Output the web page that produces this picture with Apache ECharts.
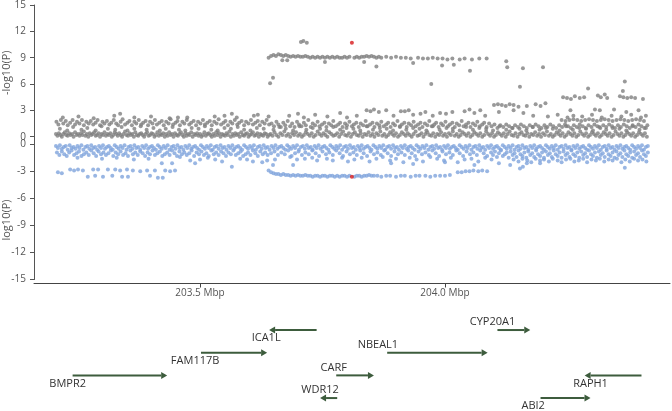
<!DOCTYPE html>
<html>
<head>
<meta charset="utf-8">
<script src="https://cdn.jsdelivr.net/npm/echarts@6/dist/echarts.min.js"></script>
<style>
  html, body { margin: 0; padding: 0; background: #fff; }
  #chart { width: 672px; height: 411px; }
</style>
</head>
<body>
<div id="chart"></div>
<script>
// flat pairs: position in kb past 203 Mbp, value x10
// top panel: -log10(P), grey
const topBase = [206,3,209,1,212,4,215,2,218,0,221,3,224,5,227,2,230,1,233,4,236,2,239,3,242,0,245,5,248,2,251,3,254,1,257,4,260,2,263,6,266,1,269,3,272,0,275,4,278,2,281,3,284,5,287,1,290,2,293,4,296,0,299,3,302,2,305,5,308,1,311,3,314,2,317,4,320,0,323,2,326,5,329,3,332,1,335,4,338,2,341,0,344,3,347,6,350,2,353,1,356,4,359,2,362,3,365,0,368,5,371,2,374,1,377,3,380,4,383,2,386,0,389,3,392,5,395,1,398,2,401,4,404,3,407,0,410,2,413,5,416,1,419,3,422,2,425,4,428,0,431,3,434,1,437,5,440,2,443,3,446,0,449,4,452,2,455,1,458,3,461,5,464,2,467,0,470,4,473,1,476,3,479,2,482,5,485,0,488,3,491,2,494,4,497,1,500,3,503,0,506,2,509,5,512,1,515,3,518,4,521,2,524,0,527,3,530,1,533,5,536,2,539,4,542,0,545,3,548,2,551,1,554,4,557,2,560,6,563,0,566,3,569,1,572,4,575,2,578,3,581,0,584,5,587,2,590,1,593,3,596,4,599,0,602,2,605,3,608,5,611,1,614,2,617,4,620,0,623,3,626,2,629,1,632,4,635,3,638,0,641,2,
  644,3,648,1,652,5,656,2,660,0,664,4,668,2,672,6,676,1,680,3,684,0,688,4,692,2,696,5,700,1,704,3,708,0,712,2,716,5,720,3,724,1,728,4,732,0,736,2,740,6,744,3,748,1,752,4,756,2,760,0,764,5,768,3,772,1,776,2,780,4,784,0,788,3,792,6,796,2,800,1,804,4,808,0,812,3,816,5,820,2,824,1,828,4,832,0,836,3,840,2,844,5,848,1,852,3,856,0,860,4,864,2,868,6,872,1,876,3,880,0,884,2,888,5,892,3,896,1,900,4,904,0,908,2,912,5,916,3,920,1,924,4,928,2,932,0,936,3,940,6,944,1,948,2,952,4,956,0,960,3,964,5,968,2,972,1,976,4,980,0,984,3,988,2,992,5,996,1,1000,3,1004,0,1008,4,1012,2,1016,6,1020,1,1024,3,1028,0,1032,2,1036,5,1040,3,1044,1,1048,4,1052,0,1056,2,1060,5,1064,3,1068,1,1072,4,1076,0,1080,2,1084,6,1088,3,1092,1,1096,4,1100,0,1104,2,1108,5,1112,3,1116,1,1120,4,1124,0,1128,3,1132,6,1136,2,1140,1,1144,4,1148,0,1152,3,1156,5,1160,2,1164,1,1168,4,1172,0,1176,3,1180,2,1184,5,1188,1,1192,3,1196,0,1200,4,1204,2,1208,6,1212,1,1216,3,1220,0,1224,2,1228,5,1232,3,1236,1,1240,4,1244,0,1248,2,1252,5,1256,3,1260,1,1264,4,1268,0,1272,2,1276,6,1280,3,1284,1,1288,4,1292,0,1296,2,1300,5,1304,3,1308,1,1312,4,1316,0,1320,2,1324,5,1328,3,1332,1,1336,4,1340,0,1344,2,1348,6,1352,3,1356,1,1360,4,1364,0,1368,2,1372,5,1376,3,1380,1,1384,4,1388,0,1392,2,1396,5,1400,3,1404,1,1408,4,1412,0];
const topMid = [214,9,229,7,241,11,258,8,270,10,287,7,299,12,312,9,327,8,340,11,352,7,366,9,379,12,391,8,405,10,418,7,430,9,444,11,457,8,470,7,483,10,497,9,510,12,523,8,536,7,550,10,563,9,577,11,590,8,603,7,616,10,630,9,650,8,662,11,675,9,690,7,703,12,717,8,730,10,745,9,758,7,772,11,786,8,799,10,813,9,827,7,840,12,853,8,867,10,881,9,894,7,908,11,921,8,935,10,948,9,962,7,975,12,989,8,1003,10,1016,9,1030,7,1043,11,1057,8,1070,10,1084,9,1098,7,1111,12,1125,8,1138,10,1152,9,1166,7,1179,11,1193,8,1206,10,1220,9,1234,7,1247,12,1261,8,1274,10,1288,9,1302,7,1315,11,1329,8,1342,10,1356,9,1370,7,1383,12,1397,8,1410,10];
const topUpper = [207,17,211,14,216,19,221,15,226,18,230,13,235,16,240,19,245,14,249,17,254,15,259,19,263,13,268,17,273,15,277,18,282,14,287,16,291,19,296,13,301,17,305,15,310,18,315,14,319,16,324,19,329,15,333,13,338,17,342,20,347,14,352,16,356,18,361,13,366,17,370,15,375,19,380,14,384,16,389,18,394,13,398,17,403,15,408,19,412,14,417,16,422,18,426,13,431,17,436,15,440,20,445,14,450,16,454,18,459,13,464,17,468,15,473,19,478,14,482,16,487,18,492,13,496,17,501,15,506,19,510,14,515,16,520,18,524,13,529,17,534,15,538,20,543,14,548,16,552,18,557,13,562,17,566,15,571,19,576,14,580,16,585,18,590,13,594,17,599,15,604,19,608,14,613,16,618,18,622,13,627,17,632,15,636,19,641,14,
  646,15,651,12,656,17,660,14,665,11,670,16,674,13,679,18,684,12,688,15,693,11,698,17,702,14,707,12,712,16,716,13,721,19,726,11,730,15,735,13,740,17,744,12,749,14,754,16,758,11,763,15,768,13,772,18,777,12,782,14,786,16,791,11,796,15,800,13,805,17,810,12,814,14,819,16,824,11,828,15,833,13,838,18,842,12,847,14,852,16,856,11,861,15,866,13,870,17,875,12,880,14,884,16,889,11,894,15,898,13,903,18,908,12,912,14,917,16,922,11,926,15,931,13,936,17,940,12,945,14,950,16,954,11,959,15,964,13,968,18,973,12,978,14,982,16,987,11,992,15,996,13,1001,17,1006,12,1010,14,1015,16,1020,11,1024,15,1029,13,1034,18,1038,12,1043,14,1048,16,1052,11,1057,15,1062,13,1066,17,1071,12,1076,14,1080,16,1085,11,1090,15,
  1095,12,1101,14,1107,10,1113,13,1119,11,1125,14,1131,12,1137,10,1143,13,1149,11,1155,14,1161,12,1167,10,1173,13,1179,11,1185,14,1191,12,1197,10,1203,13,1209,11,1215,14,1221,12,1227,10,1233,13,1239,11,1245,14,1251,12,1257,10,1263,13,1269,11,1275,14,1281,12,1287,10,1293,13,1299,11,1305,14,1311,12,1317,10,1323,13,1329,11,1335,14,1341,12,1347,10,1353,13,1359,11,1365,14,1371,12,1377,10,1383,13,1389,11,1395,14,1401,12,1407,10,1413,13,
  1238,19,1246,18,1254,19,1262,20,1270,19,1278,18,1286,19,1294,20,1302,19,1310,18,1318,19,1326,20,1334,19,1342,18,1350,19,1358,20,1366,19,1374,18,1382,19,1390,20,1398,19,1406,18];
const topScatter = [220,22,252,23,283,21,325,24,337,26,366,22,400,23,438,21,455,22,474,22,530,23,550,24,565,26,575,22,610,24,618,25,640,23,
  682,24,700,26,712,22,735,25,760,23,786,27,800,22,820,24,840,30,848,29,855,31,865,28,880,30,895,24,910,29,918,29,926,30,935,25,950,26,960,28,975,24,990,27,1002,26,1015,28,1040,29,1050,31,1060,27,1072,30,1082,24,
  1100,36,1108,37,1116,36,1124,35,1132,37,1140,36,1150,34,1167,35,1185,37,1195,35,1205,38,1110,28,1140,30,1160,27,1180,24,1210,23,1230,25,1250,22,1256,30,1262,24,1280,23,1306,31,1300,25,1316,30,1320,22,1340,24,1345,31,1360,23,1370,28,1380,25,1395,30,1400,22,1410,24,
  1241,45,1249,44,1257,43,1265,46,1275,44,1284,45,1312,47,1318,45,1326,48,1331,44,1357,46,1364,45,1372,44,1380,45,1388,44,1404,43];
const topPeak = [640,90,645,92,650,93,655,92,660,94,665,93,670,92,675,93,680,92,685,91,690,92,695,91,700,92,705,91,710,91,715,92,720,91,725,90,730,91,735,90,740,91,745,90,750,91,755,90,760,91,765,90,770,91,775,90,780,91,785,90,790,90,795,91,800,90,805,91,815,90,820,91,825,90,830,91,835,91,840,92,845,91,850,92,855,91,860,90,865,91,870,90,880,91,890,90,900,91,910,90,920,90,930,89,945,90,955,89,965,89,975,90,985,89,995,89,1005,88,1015,89,1030,88,1040,89,1055,88,1070,89,1085,89];
const topHigh = [643,61,649,67,668,87,678,87,706,108,711,109,718,107,755,85,835,85,860,80,935,84,972,60,994,81,1018,82,1051,75,1125,86,1127,79,1153,57,1159,78,1200,79,1292,55,1363,52,1367,63];
const topLead = [810,107];

// bottom panel: log10(P), blue
const botA = [206,-2,210,-4,214,-1,218,-5,222,-3,226,-2,230,-6,234,-1,238,-4,242,-3,246,-5,250,-2,254,-4,258,-1,262,-6,266,-3,270,-2,274,-5,278,-1,282,-4,286,-3,290,-6,294,-2,298,-4,302,-1,306,-5,310,-3,314,-2,318,-4,322,-6,326,-1,330,-3,334,-5,338,-2,342,-4,346,-1,350,-6,354,-3,358,-2,362,-5,366,-1,370,-4,374,-3,378,-6,382,-2,386,-4,390,-1,394,-5,398,-3,402,-2,406,-4,410,-6,414,-1,418,-3,422,-5,426,-2,430,-4,434,-1,438,-6,442,-3,446,-2,450,-5,454,-1,458,-4,462,-3,466,-6,470,-2,474,-4,478,-1,482,-5,486,-3,490,-2,494,-4,498,-6,502,-1,506,-3,510,-5,514,-2,518,-4,522,-1,526,-6,530,-3,534,-2,538,-5,542,-1,546,-4,550,-3,554,-6,558,-2,562,-4,566,-1,570,-5,574,-3,578,-2,582,-4,586,-6,590,-1,594,-3,598,-5,602,-2,606,-4,610,-1,614,-6,618,-3,622,-2,626,-5,630,-1,634,-4,638,-3,642,-6,646,-2,650,-4,654,-1,658,-5,662,-3,666,-2,670,-4,674,-6,678,-1,682,-3,686,-5,690,-2,694,-4,698,-1,702,-6,706,-3,710,-2,714,-5,718,-1,722,-4,726,-3,730,-6,734,-2,738,-4,742,-1,746,-5,750,-3,754,-2,758,-4,762,-6,766,-1,770,-3,774,-5,778,-2,782,-4,786,-1,790,-6,794,-3,798,-2,802,-5,806,-1,810,-4,814,-3,818,-6,822,-2,826,-4,830,-1,834,-5,838,-3,842,-2,846,-4,850,-6,854,-1,858,-3,862,-5,866,-2,870,-4,874,-1,878,-6,882,-3,886,-2,890,-5,894,-1,898,-4,902,-3,906,-6,910,-2,914,-4,918,-1,922,-5,926,-3,930,-2,934,-4,938,-6,942,-1,946,-3,950,-5,954,-2,958,-4,962,-1,966,-6,970,-3,974,-2,978,-5,982,-1,986,-4,990,-3,994,-6,998,-2,1002,-4,1006,-1,1010,-5,1014,-3,1018,-2,1022,-4,1026,-6,1030,-1,1034,-3,1038,-5,1042,-2,1046,-4,1050,-1,1054,-6,1058,-3,1062,-2,1066,-5,1070,-1,1074,-4,1078,-3,1082,-6,1086,-2,1090,-4,1094,-1,1098,-5,1102,-3,1106,-2,1110,-4,1114,-6,1118,-1,1122,-3,1126,-5,1130,-2,1134,-4,1138,-1,1142,-6,1146,-3,1150,-2,1154,-5,1158,-1,1162,-4,1166,-3,1170,-6,1174,-2,1178,-4,1182,-1,1186,-5,1190,-3,1194,-2,1198,-4,1202,-6,1206,-1,1210,-3,1214,-5,1218,-2,1222,-4,1226,-1,1230,-6,1234,-3,1238,-2,1242,-5,1246,-1,1250,-4,1254,-3,1258,-6,1262,-2,1266,-4,1270,-1,1274,-5,1278,-3,1282,-2,1286,-4,1290,-6,1294,-1,1298,-3,1302,-5,1306,-2,1310,-4,1314,-1,1318,-6,1322,-3,1326,-2,1330,-5,1334,-1,1338,-4,1342,-3,1346,-6,1350,-2,1354,-4,1358,-1,1362,-5,1366,-3,1370,-2,1374,-4,1378,-6,1382,-1,1386,-3,1390,-5,1394,-2,1398,-4,1402,-1,1406,-6,1410,-3,1414,-2];
const botB = [208,-9,213,-12,218,-8,223,-11,228,-13,233,-9,238,-7,243,-12,248,-10,253,-8,258,-13,263,-11,268,-9,273,-12,278,-7,283,-10,288,-13,293,-8,298,-11,303,-9,308,-12,313,-10,318,-7,323,-13,328,-9,333,-11,338,-8,343,-12,348,-10,353,-13,358,-7,363,-11,368,-9,373,-12,378,-8,383,-10,388,-13,393,-9,398,-11,403,-7,408,-12,413,-10,418,-8,423,-13,428,-11,433,-9,438,-12,443,-7,448,-10,453,-13,458,-8,463,-11,468,-9,473,-12,478,-10,483,-7,488,-13,493,-9,498,-11,503,-8,508,-12,513,-10,518,-13,523,-7,528,-11,533,-9,538,-12,543,-8,548,-10,553,-13,558,-9,563,-11,568,-7,573,-12,578,-10,583,-8,588,-13,593,-11,598,-9,603,-12,608,-7,613,-10,618,-13,623,-8,628,-11,633,-9,638,-12,
  645,-10,652,-8,659,-12,666,-9,673,-11,680,-7,687,-13,694,-10,701,-8,708,-12,715,-9,722,-11,729,-7,736,-10,743,-13,750,-8,757,-11,764,-9,771,-12,778,-7,785,-10,792,-13,799,-8,806,-11,813,-9,820,-12,827,-7,834,-10,841,-13,848,-8,855,-11,862,-9,869,-12,876,-7,883,-10,890,-13,897,-8,904,-11,911,-9,918,-12,925,-7,932,-10,939,-13,946,-8,953,-11,960,-9,967,-12,974,-7,981,-10,988,-13,995,-8,1002,-11,1009,-9,1016,-12,1023,-7,1030,-10,1037,-13,1044,-8,1051,-11,1058,-9,1065,-12,1072,-7,1079,-10,1086,-13,
  1094,-9,1098,-12,1102,-8,1106,-14,1110,-10,1114,-7,1118,-13,1122,-11,1126,-9,1130,-15,1134,-8,1138,-12,1142,-10,1146,-14,1150,-7,1154,-11,1158,-13,1162,-9,1166,-15,1170,-8,1174,-12,1178,-10,1182,-14,1186,-7,1190,-11,1194,-13,1198,-9,1202,-15,1206,-8,1210,-12,1214,-10,1218,-14,1222,-7,1226,-11,1230,-13,1234,-9,1238,-15,1242,-8,1246,-12,1250,-10,1254,-14,1258,-7,1262,-11,1266,-13,1270,-9,1274,-15,1278,-8,1282,-12,1286,-10,1290,-14,1294,-7,1298,-11,1302,-13,1306,-9,1310,-15,1314,-8,1318,-12,1322,-10,1326,-14,1330,-7,1334,-11,1338,-13,1342,-9,1346,-15,1350,-8,1354,-12,1358,-10,1362,-14,1366,-7,1370,-11,1374,-13,1378,-9,1382,-15,1386,-8,1390,-12,1394,-10,1398,-14,1402,-7,1406,-11,1410,-13,1414,-9];
const botC = [1140,-17,1150,-19,1158,-16,1168,-18,1176,-20,1185,-16,1194,-18,1202,-17,1212,-19,1220,-16,1230,-18,1238,-20,1247,-17,1256,-16,1264,-19,1273,-18,1282,-16,1290,-20,1299,-17,1308,-18,1316,-16,1325,-19,1334,-17,1342,-18,1351,-16,1360,-20,1368,-17,1377,-19,1386,-16,1394,-18,1403,-17,1411,-19];
const botScatter = [250,-15,300,-16,330,-15,365,-17,395,-16,422,-21,443,-21,459,-14,480,-18,490,-21,500,-17,516,-15,531,-17,545,-19,565,-25,582,-16,596,-17,608,-19,627,-20,637,-18,649,-23,653,-17,684,-14,690,-23,698,-17,714,-16,729,-15,739,-18,759,-16,771,-18,790,-15,802,-19,
  815,-17,830,-15,846,-19,860,-16,873,-14,888,-18,890,-21,900,-16,915,-20,928,-15,935,-22,942,-17,955,-19,970,-14,984,-16,998,-18,1000,-20,1012,-15,1026,-20,1040,-17,1054,-16,1060,-23,1068,-19,1082,-15,1095,-17,1110,-21,1133,-23,1153,-27,1159,-25,1167,-21,1194,-21,1367,-26];
const botRowLeft = [210,-31,218,-32,235,-28,243,-29,251,-28,261,-29,271,-36,282,-28,286,-35,292,-28,302,-36,312,-28,321,-35,327,-28,337,-29,341,-36,351,-28,353,-36,363,-29,378,-30,392,-29,398,-35,408,-29,414,-37,424,-37,429,-29,439,-30,449,-29];
const botRowMid = [640,-29,645,-31,650,-32,655,-33,660,-33,665,-34,670,-33,675,-34,680,-34,685,-35,690,-34,695,-35,700,-34,705,-35,710,-35,715,-34,720,-35,725,-35,730,-36,735,-35,740,-35,745,-36,750,-35,755,-35,760,-36,765,-35,770,-35,775,-36,780,-35,785,-36,790,-35,795,-35,800,-36,805,-35,815,-36,820,-35,825,-35,830,-36,835,-35,840,-35,845,-34,850,-35,855,-35,862,-35,870,-36,880,-35,888,-35,900,-36,910,-35,918,-35,930,-36,940,-35,948,-35,960,-35,970,-36,980,-35,990,-35,1000,-35,1010,-34,1026,-31,1034,-31,1042,-30,1050,-30,1058,-29,1068,-30,1076,-29,1086,-30];
const botLead = [810,-36];

// genes (Mbp)
const geneNames = ["BMPR2", "FAM117B", "ICA1L", "WDR12", "CARF", "NBEAL1", "CYP20A1", "ABI2", "RAPH1"];
const geneStart = [203.240, 203.502, 203.641, 203.745, 203.778, 203.882, 204.107, 204.195, 204.285];
const geneEnd = [203.433, 203.637, 203.738, 203.780, 203.855, 204.087, 204.174, 204.297, 204.401];
const geneStrand = ["+", "+", "-", "-", "+", "+", "+", "+", "-"];
const geneRow = [2, 1, 0, 3, 2, 1, 0, 3, 2];
const geneLabelAt = [203.230, 203.490, 203.635, 203.745, 203.773, 203.863, 204.097, 204.180, 204.297];
const geneLabelSide = ["below", "below", "below", "above", "above", "above", "above", "below", "below"];

const xTicks = [203.5, 204.0];
const topTicks = [0, 3, 6, 9, 12, 15];
const botTicks = [0, -3, -6, -9, -12, -15];

const xMin = 203.1612, xMax = 204.4592;
const GREY = "#7f7f7f", BLUE = "#7fa4dc", RED = "#d7191c", ARROW = "#3d5c3d", AXIS = "#555";
const FONT = "Open Sans";
const PLOT_LEFT = 34, TOP_Y = 5, BOT_Y = 279.5;

function toPoints(flat) {
  const out = [];
  for (let i = 0; i < flat.length; i += 2) out.push([203 + flat[i] / 1000, flat[i + 1] / 10]);
  return out;
}

const topPts = [].concat(toPoints(topBase), toPoints(topMid), toPoints(topUpper),
  toPoints(topScatter), toPoints(topPeak), toPoints(topHigh));
const botPts = [].concat(toPoints(botA), toPoints(botB), toPoints(botC),
  toPoints(botScatter), toPoints(botRowLeft), toPoints(botRowMid));

function yAxisFor(grid, min, max, ticks, name, pad) {
  return {
    type: "value", gridIndex: grid, min: min, max: max,
    name: name, nameLocation: "middle", nameGap: 22, nameMoveOverlap: false,
    nameTextStyle: { color: AXIS, fontSize: 11, fontFamily: FONT, padding: pad },
    axisLine: { show: true, onZero: false, lineStyle: { color: AXIS, width: 1 } },
    axisTick: { show: true, length: 4, customValues: ticks, lineStyle: { color: AXIS } },
    axisLabel: { customValues: ticks, color: AXIS, fontSize: 10, fontFamily: FONT, margin: 8 },
    splitLine: { show: false }
  };
}

function renderGene(params, api) {
  const i = params.dataIndex;
  const a = api.coord([geneStart[i], geneRow[i]]);
  const b = api.coord([geneEnd[i], geneRow[i]]);
  const y = a[1];
  const plus = geneStrand[i] === "+";
  const head = plus ? b[0] : a[0];
  const tail = plus ? a[0] : b[0];
  const dir = plus ? 1 : -1;
  const hl = 6, hw = 3.5;
  const lab = api.coord([geneLabelAt[i], geneRow[i]]);
  const ly = geneLabelSide[i] === "below" ? y + 8 : y - 8;
  return {
    type: "group",
    children: [
      { type: "line", shape: { x1: tail, y1: y, x2: head - dir * hl, y2: y },
        style: { stroke: ARROW, lineWidth: 2 } },
      { type: "polygon", shape: { points: [[head, y], [head - dir * hl, y - hw], [head - dir * hl, y + hw]] },
        style: { fill: ARROW } },
      { type: "text", x: lab[0], y: ly,
        style: { text: geneNames[i], fill: "#333", fontSize: 11, fontFamily: FONT,
                 align: "center", verticalAlign: "middle" } }
    ]
  };
}

const gridBase = { left: PLOT_LEFT, right: 2, containLabel: false, outerBoundsMode: "none" };

const chart = echarts.init(document.getElementById("chart"), null, { renderer: "canvas" });
chart.setOption({
  animation: false,
  backgroundColor: "#fff",
  textStyle: { fontFamily: FONT },
  grid: [
    Object.assign({ top: TOP_Y, height: 135.5 }, gridBase),
    Object.assign({ top: 140.5, height: BOT_Y - 140.5 }, gridBase),
    Object.assign({ top: 318.7, height: 90.7 }, gridBase)
  ],
  xAxis: [
    { type: "value", gridIndex: 0, min: xMin, max: xMax, show: false },
    { type: "value", gridIndex: 1, min: xMin, max: xMax, offset: 4,
      axisLine: { show: true, onZero: false, lineStyle: { color: "#444" } },
      axisTick: { show: true, length: 4, customValues: xTicks, lineStyle: { color: "#444" } },
      axisLabel: { customValues: xTicks, color: AXIS, fontSize: 10, fontFamily: FONT, margin: 5,
                   formatter: v => v.toFixed(1) + " Mbp" },
      splitLine: { show: false } },
    { type: "value", gridIndex: 2, min: xMin, max: xMax, show: false }
  ],
  yAxis: [
    yAxisFor(0, -0.433, 15, topTicks, "-log10(P)", [0, 0, 0, 0]),
    yAxisFor(1, -15, 0.42, botTicks, "log10(P)", [0, 20, 0, 0]),
    { type: "value", gridIndex: 2, min: -0.5, max: 3.5, inverse: true, show: false }
  ],
  // shared vertical axis line running through both panels
  graphic: [
    { type: "line", silent: true, z: 10,
      shape: { x1: PLOT_LEFT + 0.5, y1: TOP_Y, x2: PLOT_LEFT + 0.5, y2: BOT_Y },
      style: { stroke: AXIS, lineWidth: 1 } }
  ],
  series: [
    { type: "scatter", xAxisIndex: 0, yAxisIndex: 0, data: topPts, symbolSize: 4,
      itemStyle: { color: GREY }, silent: true },
    { type: "scatter", xAxisIndex: 0, yAxisIndex: 0, data: toPoints(topLead), symbolSize: 4,
      itemStyle: { color: RED }, silent: true, z: 3 },
    { type: "scatter", xAxisIndex: 1, yAxisIndex: 1, data: botPts, symbolSize: 4,
      itemStyle: { color: BLUE }, silent: true },
    { type: "scatter", xAxisIndex: 1, yAxisIndex: 1, data: toPoints(botLead), symbolSize: 4,
      itemStyle: { color: RED }, silent: true, z: 3 },
    { type: "custom", xAxisIndex: 2, yAxisIndex: 2, clip: false, silent: true,
      data: geneNames.map((n, i) => [geneStart[i], geneEnd[i], geneRow[i]]),
      encode: { x: [0, 1], y: 2 },
      renderItem: renderGene }
  ]
});
</script>
</body>
</html>
